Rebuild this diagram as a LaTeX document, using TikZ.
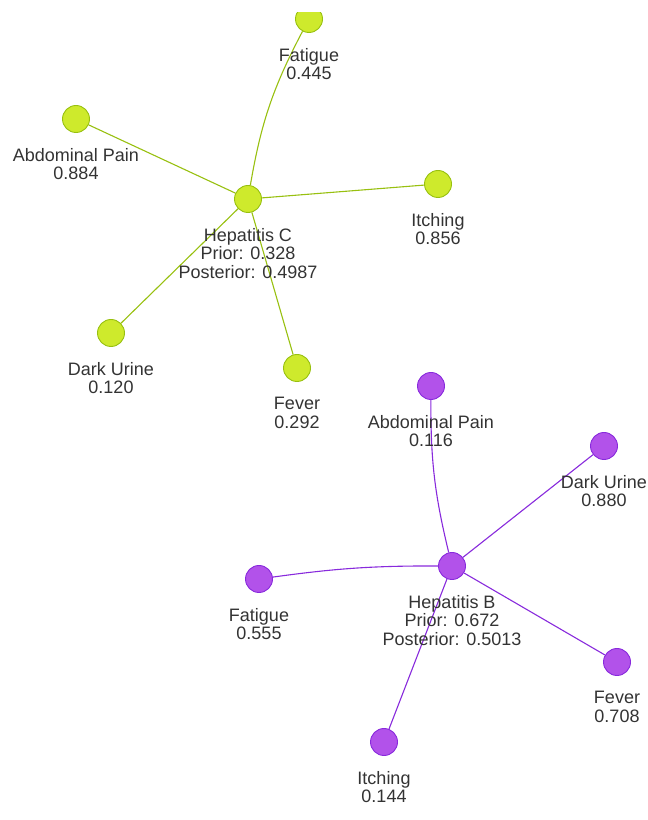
\documentclass[tikz,border=0pt]{standalone}
\usepackage{fontspec}
\setmainfont{Liberation Sans}
\usetikzlibrary{positioning,backgrounds}
\definecolor{limefill}{RGB}{206,234,44}
\definecolor{limeline}{RGB}{152,192,16}
\definecolor{violetfill}{RGB}{178,82,234}
\definecolor{violetline}{RGB}{136,42,220}
\definecolor{txtgray}{RGB}{51,51,51}
\begin{document}
\begin{tikzpicture}[x=1pt,y=1pt,
    dot/.style={circle,draw,line width=0.9pt,minimum size=27pt,inner sep=0pt},
    hepc/.style={dot,fill=limefill,draw=limeline},
    hepb/.style={dot,fill=violetfill,draw=violetline},
    lbl/.style={align=center,text=txtgray,inner sep=0pt,
        font=\fontsize{18}{18.5}\selectfont},
    cedge/.style={draw=limeline,line width=1.1pt},
    bedge/.style={draw=violetline,line width=1.1pt}]
    \useasboundingbox (0,0) rectangle (648,820);
    \clip (0,0) rectangle (648,807);

    % Hepatitis C
    \node[hepc] (hepC) at (248,621) {};
    \node[hepc] (fatC) at (309,801) {};
    \node[hepc] (abdC) at (76,701) {};
    \node[hepc] (itchC) at (438,636) {};
    \node[hepc] (urineC) at (111,487) {};
    \node[hepc] (feverC) at (297,452) {};

    \node[lbl,below=15pt of hepC] {Hepatitis C\\Prior: 0.328\\Posterior: 0.4987};
    \node[lbl,below=15pt of fatC] {Fatigue\\0.445};
    \node[lbl,below=15pt of abdC] {Abdominal Pain\\0.884};
    \node[lbl,below=15pt of itchC] {Itching\\0.856};
    \node[lbl,below=15pt of urineC] {Dark Urine\\0.120};
    \node[lbl,below=15pt of feverC] {Fever\\0.292};

    % Hepatitis B
    \node[hepb] (hepB) at (452,254) {};
    \node[hepb] (abdB) at (431,434) {};
    \node[hepb] (urineB) at (604,374) {};
    \node[hepb] (fatB) at (259,241) {};
    \node[hepb] (feverB) at (617,158) {};
    \node[hepb] (itchB) at (384,78) {};

    \node[lbl,below=15pt of hepB] {Hepatitis B\\Prior: 0.672\\Posterior: 0.5013};
    \node[lbl,below=15pt of abdB] {Abdominal Pain\\0.116};
    \node[lbl,below=15pt of urineB] {Dark Urine\\0.880};
    \node[lbl,below=15pt of fatB] {Fatigue\\0.555};
    \node[lbl,below=15pt of feverB] {Fever\\0.708};
    \node[lbl,below=15pt of itchB] {Itching\\0.144};

    \begin{scope}[on background layer]
        \draw[cedge] (hepC) to[bend left=9] (fatC);
        \draw[cedge] (hepC) -- (abdC);
        \draw[cedge] (hepC) -- (itchC);
        \draw[cedge] (hepC) -- (urineC);
        \draw[cedge] (hepC) -- (feverC);

        \draw[bedge] (hepB) to[bend left=7] (abdB);
        \draw[bedge] (hepB) -- (urineB);
        \draw[bedge] (hepB) to[bend right=4] (fatB);
        \draw[bedge] (hepB) -- (feverB);
        \draw[bedge] (hepB) -- (itchB);
    \end{scope}
\end{tikzpicture}
\end{document}
